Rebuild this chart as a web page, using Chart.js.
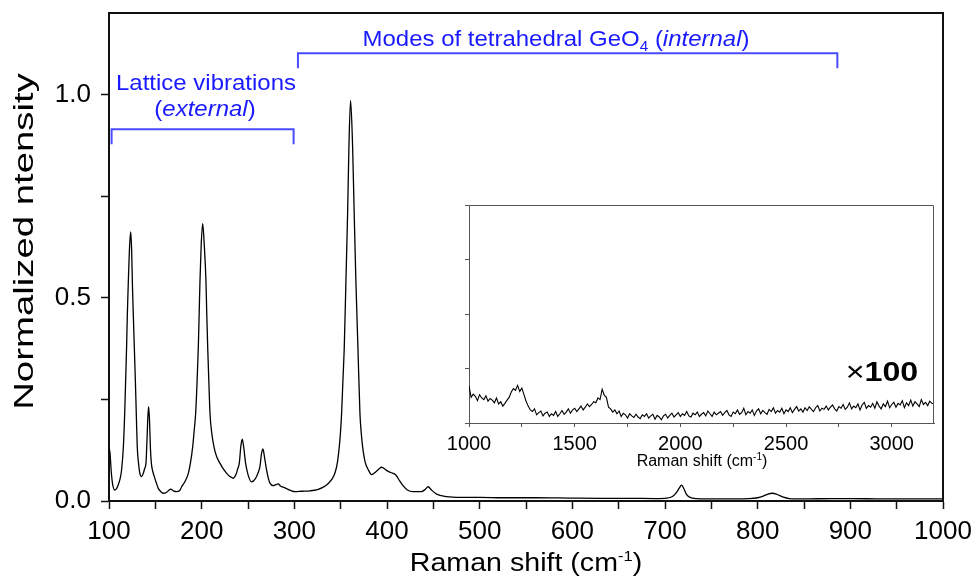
<!DOCTYPE html>
<html>
<head>
<meta charset="utf-8">
<script src="https://cdn.jsdelivr.net/npm/chart.js@4.4.1/dist/chart.umd.min.js"></script>
<style>
  html, body { margin: 0; padding: 0; background: #fff; }
  #wrap { position: relative; width: 980px; height: 577px; }
  #mainChart { position: absolute; left: 0; top: 0; }
  #insetChart { position: absolute; left: 440px; top: 190px; }
</style>
</head>
<body>
<div id="wrap">
  <canvas id="mainChart" width="980" height="577"></canvas>
  <canvas id="insetChart" width="510" height="290"></canvas>
</div>
<script>
// --- main spectrum ---
const ramanShift = [
  100, 101, 102.5, 104, 106, 108, 110, 112, 113.5, 115.5, 117, 118, 119, 119.8, 121, 122.3, 123.4, 124.4, 125.3, 126.2,
  127.3, 128.4, 129.5, 130.5, 132, 133.3, 135.2, 137, 138.5, 139.9, 141, 142, 142.8, 143.7, 144.7, 145.7, 147, 148.9, 151, 153.2,
  155.5, 158.6, 162, 166.5, 169.5, 173, 176, 178.4, 182, 185.6, 188, 190.3, 192, 193.5, 195, 196.4, 197.3, 198.2, 199.5, 201.1,
  202.8, 204.6, 205.5, 206.5, 207.8, 209, 211, 213.3, 216, 219.7, 223, 227, 230.5, 234, 237, 239, 240.6, 242.3, 243.8, 245.5,
  247.4, 250, 253.9, 258, 261, 262.9, 264.5, 266.1, 268, 270, 272, 273.7, 277, 280, 282.6, 285, 288, 292, 296, 300.6,
  308, 316.8, 325, 331.2, 336, 341, 344, 346.5, 348.5, 350, 351, 352.5, 353.9, 355.7, 357.5, 358.9, 360.7, 362.9, 364.6, 366.4, 368.6,
  370.8, 372.3, 373.7, 376.5, 379.8, 383.4, 388, 391, 394.2, 399, 404, 409.5, 413.5, 417.5, 422, 428, 437, 441, 444.5, 448,
  453.5, 464, 480, 500, 525, 560, 600, 630, 660, 690, 702, 708, 712, 715.5, 717.8, 720, 723, 727, 734, 760,
  790, 800, 806, 811, 816, 821, 827, 834, 850, 880, 900, 935, 970, 1000
];
const intensity = [
  0.13, 0.12, 0.07, 0.04, 0.027, 0.03, 0.04, 0.055, 0.075, 0.133, 0.22, 0.30, 0.38, 0.46, 0.55, 0.63, 0.662, 0.62, 0.53, 0.46,
  0.38, 0.30, 0.21, 0.133, 0.09, 0.068, 0.06, 0.068, 0.08, 0.093, 0.15, 0.21, 0.232, 0.20, 0.13, 0.093, 0.075, 0.06, 0.045, 0.031,
  0.024, 0.019, 0.021, 0.029, 0.025, 0.023, 0.025, 0.035, 0.048, 0.068, 0.095, 0.133, 0.175, 0.215, 0.29, 0.379, 0.46, 0.543, 0.63, 0.682,
  0.63, 0.543, 0.46, 0.379, 0.29, 0.215, 0.165, 0.133, 0.11, 0.093, 0.08, 0.068, 0.06, 0.056, 0.065, 0.08, 0.093, 0.135, 0.152, 0.13,
  0.093, 0.065, 0.047, 0.055, 0.07, 0.085, 0.115, 0.128, 0.105, 0.077, 0.055, 0.044, 0.038, 0.04, 0.042, 0.037, 0.034, 0.03, 0.026, 0.023,
  0.024, 0.025, 0.028, 0.034, 0.042, 0.055, 0.07, 0.095, 0.133, 0.175, 0.215, 0.30, 0.379, 0.543, 0.707, 0.87, 0.985, 0.87, 0.707, 0.543, 0.379,
  0.215, 0.165, 0.133, 0.095, 0.077, 0.065, 0.072, 0.078, 0.083, 0.076, 0.07, 0.064, 0.05, 0.037, 0.027, 0.023, 0.023, 0.028, 0.035, 0.027,
  0.017, 0.011, 0.009, 0.009, 0.008, 0.008, 0.007, 0.0065, 0.0065, 0.006, 0.007, 0.011, 0.02, 0.032, 0.039, 0.032, 0.017, 0.009, 0.006, 0.005,
  0.006, 0.008, 0.012, 0.017, 0.019, 0.016, 0.01, 0.006, 0.005, 0.006, 0.006, 0.005, 0.005, 0.005
];
const xTickVals = [100, 150, 200, 250, 300, 350, 400, 450, 500, 550, 600, 650, 700, 750, 800, 850, 900, 950, 1000];
const yTickVals = [0, 0.25, 0.5, 0.75, 1.0];

// --- inset (x100), one reading every 10 cm-1 from 1000 ---
const insetStart = 1000;
const insetStep = 10;
const insetCounts = [
  0.68, 0.47, 0.53, 0.49, 0.41, 0.52, 0.46, 0.43, 0.50, 0.40,
  0.45, 0.42, 0.37, 0.46, 0.35, 0.39, 0.31, 0.36, 0.42, 0.47,
  0.57, 0.63, 0.60, 0.69, 0.58, 0.64, 0.52, 0.40, 0.31, 0.24,
  0.21, 0.26, 0.15, 0.19, 0.22, 0.13, 0.18, 0.20, 0.12, 0.17,
  0.14, 0.21, 0.12, 0.17, 0.23, 0.16, 0.20, 0.26, 0.18, 0.24,
  0.27, 0.21, 0.26, 0.31, 0.24, 0.29, 0.35, 0.30, 0.34, 0.39,
  0.37, 0.46, 0.43, 0.62, 0.51, 0.47, 0.29, 0.26, 0.20, 0.24,
  0.17, 0.22, 0.12, 0.18, 0.15, 0.09, 0.17, 0.13, 0.10, 0.16,
  0.11, 0.08, 0.15, 0.12, 0.17, 0.09, 0.13, 0.16, 0.07, 0.14,
  0.11, 0.06, 0.13, 0.16, 0.09, 0.14, 0.18, 0.11, 0.15, 0.19,
  0.12, 0.17, 0.14, 0.21, 0.13, 0.11, 0.18, 0.15, 0.20, 0.12,
  0.16, 0.19, 0.13, 0.22, 0.17, 0.12, 0.20, 0.15, 0.18, 0.21,
  0.14, 0.19, 0.23, 0.15, 0.12, 0.20, 0.17, 0.24, 0.16, 0.19,
  0.27, 0.15, 0.21, 0.18, 0.24, 0.14, 0.22, 0.26, 0.17, 0.23,
  0.19, 0.16, 0.25, 0.21, 0.28, 0.18, 0.23, 0.20, 0.27, 0.17,
  0.24, 0.21, 0.28, 0.19, 0.25, 0.30, 0.22, 0.26, 0.20, 0.28,
  0.23, 0.30, 0.25, 0.21, 0.28, 0.32, 0.22, 0.27, 0.25, 0.31,
  0.24, 0.29, 0.33, 0.26, 0.22, 0.30, 0.27, 0.34, 0.25, 0.29,
  0.37, 0.26, 0.31, 0.28, 0.35, 0.24, 0.33, 0.38, 0.27, 0.32,
  0.29, 0.36, 0.27, 0.39, 0.31, 0.26, 0.35, 0.30, 0.40, 0.28,
  0.34, 0.38, 0.29, 0.36, 0.33, 0.41, 0.28, 0.37, 0.32, 0.42,
  0.31, 0.39, 0.35, 0.30, 0.43, 0.34, 0.38, 0.32, 0.40, 0.36,
  0.35
];
const insetXTicks = [1000, 1250, 1500, 1750, 2000, 2250, 2500, 2750, 3000];
const insetYTicks = [0, 1, 2, 3, 4];

// --- annotation brackets (cm-1 ranges, heights in intensity units) ---
const bracketRanges = [[102.8, 299.2], [303.9, 886]];
const bracketLevels = [0.914, 1.101];

Chart.defaults.font.family = '"Liberation Sans", Arial, sans-serif';
Chart.defaults.color = '#000';

const FONT = '"Liberation Sans", Arial, sans-serif';
const BLUE = '#1a1aff';

// draw a line of mixed-style text, horizontally stretched by sx, centred on cx
function drawRuns(ctx, runs, cx, y, sx, color) {
  ctx.save();
  ctx.fillStyle = color;
  ctx.textBaseline = 'alphabetic';
  ctx.textAlign = 'left';
  let w = 0;
  runs.forEach(r => { ctx.font = r.font; r.w = ctx.measureText(r.t).width; w += r.w; });
  ctx.translate(cx - w * sx / 2, y);
  ctx.scale(sx, 1);
  let x = 0;
  runs.forEach(r => { ctx.font = r.font; ctx.fillText(r.t, x, r.dy || 0); x += r.w; });
  ctx.restore();
}

// no extra room for the end labels, the frame is placed by hand
function noEdgePadding(s) {
  s.paddingTop = 0; s.paddingBottom = 0; s.paddingLeft = 0; s.paddingRight = 0;
}

const mainDecor = {
  id: 'mainDecor',
  afterDraw(chart) {
    const ctx = chart.ctx;
    const a = chart.chartArea;
    const xs = chart.scales.x, ys = chart.scales.y;
    // top and right frame
    ctx.save();
    ctx.strokeStyle = '#111';
    ctx.lineWidth = 2;
    ctx.beginPath();
    ctx.moveTo(a.left, a.top);
    ctx.lineTo(a.right, a.top);
    ctx.lineTo(a.right, a.bottom);
    ctx.stroke();

    // brackets
    ctx.strokeStyle = '#4a4aff';
    ctx.lineWidth = 2;
    bracketRanges.forEach((r, i) => {
      const x0 = xs.getPixelForValue(r[0]), x1 = xs.getPixelForValue(r[1]);
      const yTop = ys.getPixelForValue(bracketLevels[i]);
      const yLow = yTop + 15;
      ctx.beginPath();
      ctx.moveTo(x0, yLow);
      ctx.lineTo(x0, yTop);
      ctx.lineTo(x1, yTop);
      ctx.lineTo(x1, yLow);
      ctx.stroke();
    });
    ctx.restore();

    // annotation texts
    drawRuns(ctx, [{ t: 'Lattice vibrations', font: '22px ' + FONT }], 206, 90, 1.09, BLUE);
    drawRuns(ctx, [
      { t: '(', font: '22px ' + FONT },
      { t: 'external', font: 'italic 22px ' + FONT },
      { t: ')', font: '22px ' + FONT }
    ], 205, 116, 1.09, BLUE);
    drawRuns(ctx, [
      { t: 'Modes of tetrahedral GeO', font: '22px ' + FONT },
      { t: '4', font: '14px ' + FONT, dy: 5 },
      { t: ' (', font: '22px ' + FONT },
      { t: 'internal', font: 'italic 22px ' + FONT },
      { t: ')', font: '22px ' + FONT }
    ], 556, 46, 1.09, BLUE);

    // x100 marker for the inset
    drawRuns(ctx, [
      { t: '×', font: '28px ' + FONT },
      { t: '100', font: 'bold 28px ' + FONT }
    ], 882, 381, 1.15, '#000');

    // axis titles
    drawRuns(ctx, [
      { t: 'Raman shift (cm', font: '26px ' + FONT },
      { t: '-1', font: '15px ' + FONT, dy: -10 },
      { t: ')', font: '26px ' + FONT }
    ], 526, 571, 1.1, '#000');

    ctx.save();
    ctx.translate(33, 241.5);
    ctx.rotate(-Math.PI / 2);
    drawRuns(ctx, [{ t: 'Normalized ntensity', font: '27px ' + FONT }], 0, 0, 1.42, '#000');
    ctx.restore();
  }
};

new Chart(document.getElementById('mainChart'), {
  type: 'line',
  data: {
    datasets: [{
      data: ramanShift.map((x, i) => ({ x: x, y: intensity[i] })),
      borderColor: '#000',
      borderWidth: 1.3,
      pointRadius: 0,
      cubicInterpolationMode: 'monotone',
      fill: false
    }]
  },
  options: {
    responsive: false,
    devicePixelRatio: 1,
    animation: false,
    layout: { padding: { left: 0, top: 13, right: 37, bottom: 0 } },
    plugins: { legend: { display: false }, tooltip: { enabled: false } },
    scales: {
      x: {
        type: 'linear',
        min: 100,
        max: 1000,
        afterBuildTicks: s => { s.ticks = xTickVals.map(v => ({ value: v })); },
        afterFit: s => { s.height = 76; noEdgePadding(s); },
        border: { display: true, color: '#111', width: 2 },
        grid: { drawOnChartArea: false, drawTicks: true, tickLength: 8, tickWidth: 1.5, tickColor: '#111' },
        ticks: {
          autoSkip: false,
          maxRotation: 0,
          padding: 7,
          font: { size: 26 },
          color: '#000',
          callback: v => (v % 100 === 0 ? String(v) : '')
        }
      },
      y: {
        type: 'linear',
        min: 0,
        max: 1.2,
        afterBuildTicks: s => { s.ticks = yTickVals.map(v => ({ value: v })); },
        afterFit: s => { s.width = 109; noEdgePadding(s); },
        border: { display: true, color: '#111', width: 2 },
        grid: { drawOnChartArea: false, drawTicks: true, tickLength: 8, tickWidth: 1.5, tickColor: '#111' },
        ticks: {
          autoSkip: false,
          padding: 10,
          font: { size: 26 },
          color: '#000',
          callback: v => (Math.abs(v * 2 - Math.round(v * 2)) < 1e-9 ? v.toFixed(1) : '')
        }
      }
    }
  },
  plugins: [mainDecor]
});

// --- inset ---
const insetDecor = {
  id: 'insetDecor',
  afterDraw(chart) {
    const ctx = chart.ctx;
    const a = chart.chartArea;
    ctx.save();
    ctx.strokeStyle = '#555';
    ctx.lineWidth = 1;
    ctx.beginPath();
    ctx.moveTo(a.left, a.top + 0.5);
    ctx.lineTo(a.right - 0.5, a.top + 0.5);
    ctx.lineTo(a.right - 0.5, a.bottom);
    ctx.stroke();
    ctx.restore();
    drawRuns(ctx, [
      { t: 'Raman shift (cm', font: '16px ' + FONT },
      { t: '-1', font: '10px ' + FONT, dy: -6 },
      { t: ')', font: '16px ' + FONT }
    ], 702 - 440, 466 - 190, 1.0, '#000');
  }
};

new Chart(document.getElementById('insetChart'), {
  type: 'line',
  data: {
    datasets: [{
      data: insetCounts.map((c, i) => ({ x: insetStart + i * insetStep, y: c })),
      borderColor: '#000',
      borderWidth: 1.1,
      pointRadius: 0,
      tension: 0,
      fill: false
    }]
  },
  options: {
    responsive: false,
    devicePixelRatio: 1,
    animation: false,
    layout: { padding: { left: 0, top: 15, right: 16, bottom: 0 } },
    plugins: { legend: { display: false }, tooltip: { enabled: false } },
    scales: {
      x: {
        type: 'linear',
        min: 1000,
        max: 3200,
        afterBuildTicks: s => { s.ticks = insetXTicks.map(v => ({ value: v })); },
        afterFit: s => { s.height = 57; noEdgePadding(s); },
        border: { display: true, color: '#555', width: 1 },
        grid: { drawOnChartArea: false, drawTicks: true, tickLength: 4, tickWidth: 1, tickColor: '#555' },
        ticks: {
          autoSkip: false,
          maxRotation: 0,
          padding: 5,
          font: { size: 20 },
          color: '#000',
          callback: v => (v % 500 === 0 ? String(v) : '')
        }
      },
      y: {
        type: 'linear',
        min: 0,
        max: 4,
        afterBuildTicks: s => { s.ticks = insetYTicks.map(v => ({ value: v })); },
        afterFit: s => { s.width = 29; noEdgePadding(s); },
        border: { display: true, color: '#555', width: 1 },
        grid: { drawOnChartArea: false, drawTicks: true, tickLength: 4, tickWidth: 1, tickColor: '#555' },
        ticks: { display: false }
      }
    }
  },
  plugins: [insetDecor]
});
</script>
</body>
</html>
